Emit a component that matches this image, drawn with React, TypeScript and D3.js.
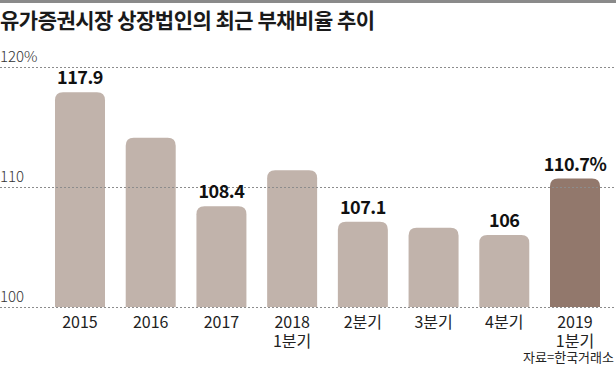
import { useEffect, useRef } from "react";
import * as d3 from "d3";

// categories (line 1 / line 2) and debt ratio values (%)
const categories = ["2015", "2016", "2017", "2018", "2분기", "3분기", "4분기", "2019"];
const subLabels = ["", "", "", "1분기", "", "", "", "1분기"];
const values = [117.9, 114.1, 108.4, 111.4, 107.1, 106.6, 106.0, 110.7];
const valueLabels = ["117.9", "", "108.4", "", "107.1", "", "106", "110.7%"];
const yTicks = [100, 110, 120];
const yTickLabels = ["100", "110", "120%"];

const FONT = "'Noto Sans CJK KR', 'Noto Sans', sans-serif";

export default function App() {
  const ref = useRef<SVGSVGElement>(null);

  useEffect(() => {
    if (!ref.current) return;
    const svg = d3.select(ref.current);
    svg.selectAll("*").remove();

    const width = 616;

    const x = d3
      .scaleBand<string>()
      .domain(categories)
      .range([55, 600])
      .paddingInner(0.293)
      .paddingOuter(0);

    const y = d3.scaleLinear().domain([100, 120]).range([307, 67]);
    const cx = (i: number) => (x(categories[i]) as number) + x.bandwidth() / 2;

    // top rule
    svg.append("rect").attr("x", 0).attr("y", 0).attr("width", width).attr("height", 3).attr("fill", "#8a8a8a");

    // title
    svg
      .append("text")
      .attr("x", 0)
      .attr("y", 28)
      .style("font-family", FONT)
      .style("font-size", "21px")
      .style("font-weight", 700)
      .style("letter-spacing", "-0.5px")
      .style("fill", "#1a1a1a")
      .text("유가증권시장 상장법인의 최근 부채비율 추이");

    // bars with rounded top corners
    const r = 8;
    const barPath = (i: number) => {
      const x0 = x(categories[i]) as number;
      const w = x.bandwidth();
      const top = y(values[i]);
      const bottom = y(100);
      return `M${x0},${bottom}V${top + r}Q${x0},${top} ${x0 + r},${top}H${x0 + w - r}Q${x0 + w},${top} ${x0 + w},${top + r}V${bottom}Z`;
    };

    svg
      .append("g")
      .selectAll("path")
      .data(values)
      .enter()
      .append("path")
      .attr("d", (_, i) => barPath(i))
      .attr("fill", (_, i) => (i === values.length - 1 ? "#92786c" : "#c1b3ab"));

    // dotted gridlines
    svg
      .append("g")
      .selectAll("line")
      .data(yTicks)
      .enter()
      .append("line")
      .attr("x1", 0)
      .attr("x2", width)
      .attr("y1", (d) => y(d) + 0.5)
      .attr("y2", (d) => y(d) + 0.5)
      .attr("stroke", "#8c8c8c")
      .attr("stroke-width", 1)
      .attr("stroke-dasharray", "2,2");

    // y tick labels
    svg
      .append("g")
      .selectAll("text")
      .data(yTicks)
      .enter()
      .append("text")
      .attr("x", 0)
      .attr("y", (d) => y(d) - 5)
      .style("font-family", FONT)
      .style("font-size", "15px")
      .style("font-weight", 300)
      .style("fill", "#333")
      .text((_, i) => yTickLabels[i]);

    // value labels
    svg
      .append("g")
      .selectAll("text")
      .data(values)
      .enter()
      .append("text")
      .attr("x", (_, i) => cx(i))
      .attr("y", (d) => y(d) - 8)
      .attr("text-anchor", "middle")
      .style("font-family", FONT)
      .style("font-size", "18px")
      .style("font-weight", 600)
      .style("letter-spacing", "-0.5px")
      .style("fill", "#111")
      .text((_, i) => valueLabels[i]);

    // category labels, first line
    svg
      .append("g")
      .selectAll("text")
      .data(categories)
      .enter()
      .append("text")
      .attr("x", (_, i) => cx(i))
      .attr("y", 328)
      .attr("text-anchor", "middle")
      .style("font-family", FONT)
      .style("font-size", "16px")
      .style("fill", "#222")
      .text((d) => d);

    // category labels, second line
    svg
      .append("g")
      .selectAll("text")
      .data(subLabels.map((s, i) => ({ s, i })).filter((d) => d.s !== ""))
      .enter()
      .append("text")
      .attr("x", (d) => cx(d.i))
      .attr("y", 347)
      .attr("text-anchor", "middle")
      .style("font-family", FONT)
      .style("font-size", "16px")
      .style("fill", "#222")
      .text((d) => d.s);

    // source
    svg
      .append("text")
      .attr("x", 614)
      .attr("y", 362)
      .attr("text-anchor", "end")
      .style("font-family", FONT)
      .style("font-size", "13px")
      .style("fill", "#222")
      .text("자료=한국거래소");
  }, []);

  return (
    <svg
      ref={ref}
      width={616}
      height={366}
      style={{ position: "absolute", left: 0, top: 0, background: "#fff" }}
    />
  );
}
